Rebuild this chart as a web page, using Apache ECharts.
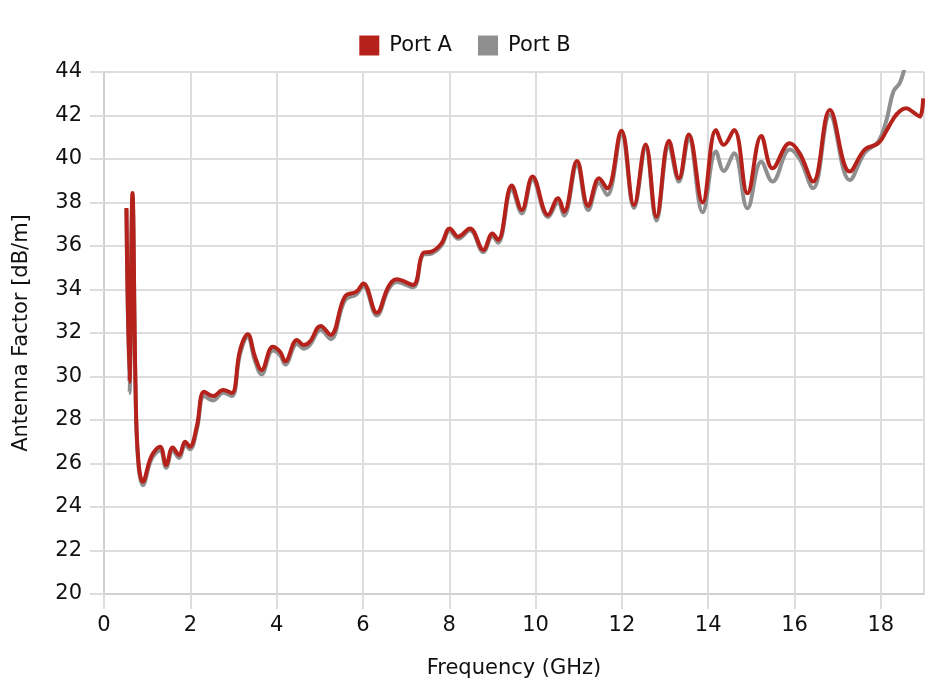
<!DOCTYPE html>
<html>
<head>
<meta charset="utf-8">
<script src="https://cdn.jsdelivr.net/npm/echarts@6/dist/echarts.min.js"></script>
<style>
  html, body { margin: 0; padding: 0; background: #fff; }
  #chart { width: 930px; height: 696px; }
</style>
</head>
<body>
<div id="chart"></div>
<script>
// frequency points (GHz)
var freq = [0.52, 0.59, 0.66, 0.73, 0.79, 0.90, 1.10, 1.30, 1.44, 1.59, 1.74, 1.88, 1.99, 2.15, 2.32, 2.53, 2.76, 2.96,
    3.15, 3.33, 3.50, 3.65, 3.91, 4.08, 4.20, 4.47, 4.63, 4.77, 5.02, 5.25, 5.58, 5.85, 6.01, 6.32, 6.59, 6.78,
    7.16, 7.40, 7.59, 7.82, 8.01, 8.21, 8.48, 8.79, 9.00, 9.13, 9.45, 9.68, 9.93, 10.29, 10.52, 10.66, 10.96,
    11.22, 11.47, 11.66, 11.99, 12.28, 12.55, 12.80, 13.09, 13.32, 13.55, 13.87, 14.18, 14.36, 14.60, 14.91,
    15.23, 15.49, 15.89, 16.12, 16.43, 16.82, 17.28, 17.63, 17.94, 18.13, 18.29, 18.44, 18.59, 18.75, 18.90, 18.98];

var portA = [37.75, 29.76, 38.44, 29.6, 26.3, 25.16, 26.34, 26.77, 25.93, 26.73, 26.39, 27.0, 26.77, 27.7, 29.3, 29.1, 29.38, 29.24,
    31.2, 31.94, 30.9, 30.3, 31.37, 31.14, 30.7, 31.68, 31.45, 31.6, 32.32, 31.91, 33.67, 33.9, 34.28, 32.93, 34.13, 34.47,
    34.21, 35.69, 35.74, 36.12, 36.81, 36.43, 36.81, 35.82, 36.58, 36.28, 38.78, 37.66, 39.2, 37.43, 38.19, 37.58, 39.91,
    37.84, 39.11, 38.65, 41.3, 37.88, 40.67, 37.35, 40.84, 39.11, 41.13, 38.0, 41.33, 40.65, 41.33, 38.42,
    41.06, 39.57, 40.72, 40.26, 38.96, 42.25, 39.42, 40.44, 40.72, 41.3, 41.85, 42.2, 42.33, 42.15, 41.95, 42.79];

var portB = [37.7, 29.24, 38.2, 29.4, 26.1, 25.0, 26.2, 26.6, 25.8, 26.6, 26.25, 26.85, 26.65, 27.55, 29.1, 28.9, 29.25, 29.1,
    31.0, 31.8, 30.7, 30.1, 31.2, 30.98, 30.55, 31.5, 31.28, 31.45, 32.15, 31.72, 33.5, 33.78, 34.15, 32.8, 34.0, 34.35,
    34.1, 35.6, 35.65, 36.02, 36.7, 36.33, 36.72, 35.72, 36.45, 36.15, 38.6, 37.5, 39.05, 37.33, 38.0, 37.4, 39.7,
    37.65, 38.9, 38.34, 41.1, 37.75, 40.5, 37.17, 40.6, 38.96, 40.95, 37.55, 40.34, 39.45, 40.26, 37.73,
    39.87, 38.96, 40.44, 40.0, 38.65, 42.02, 39.03, 40.3, 40.8, 41.79, 43.1, 43.5, 44.4, 45.2, 46.0, 46.5];

var seriesNames = ['Port A', 'Port B'];
var seriesColors = ['#b5211b', '#8f8f8f'];

function pairs(xs, ys) {
    var out = [];
    for (var i = 0; i < xs.length; i++) out.push([xs[i], ys[i]]);
    return out;
}

var font = 'DejaVu Sans';
var chart = echarts.init(document.getElementById('chart'));
chart.setOption({
    animation: false,
    textStyle: { fontFamily: font },
    legend: {
        top: 30,
        left: 'center',
        data: seriesNames,
        icon: 'rect',
        itemWidth: 20,
        itemHeight: 20,
        itemGap: 26,
        textStyle: { fontSize: 21, color: '#111', fontFamily: font, padding: [0, 0, 0, 5] }
    },
    grid: { left: 104, right: 6, top: 72, bottom: 102 },
    xAxis: {
        type: 'value',
        min: 0,
        max: 19,
        interval: 2,
        name: 'Frequency (GHz)',
        nameLocation: 'middle',
        nameGap: 64,
        nameTextStyle: { fontSize: 21, color: '#111' },
        axisLine: { show: true, lineStyle: { color: '#cccccc', width: 1.5 } },
        axisTick: { show: true, length: 15, lineStyle: { color: '#dddddd', width: 2 } },
        axisLabel: { fontSize: 21, color: '#111', margin: 21, showMaxLabel: false },
        splitLine: { show: true, lineStyle: { color: '#dddddd', width: 2 } }
    },
    yAxis: {
        type: 'value',
        min: 20,
        max: 44,
        interval: 2,
        name: 'Antenna Factor [dB/m]',
        nameLocation: 'middle',
        nameGap: 72,
        nameTextStyle: { fontSize: 21, color: '#111' },
        axisLine: { show: true, lineStyle: { color: '#cccccc', width: 1.5 } },
        axisTick: { show: true, length: 14, lineStyle: { color: '#dddddd', width: 2 } },
        axisLabel: { fontSize: 21, color: '#111', margin: 22 },
        splitLine: { show: true, lineStyle: { color: '#dddddd', width: 2 } }
    },
    series: [
        {
            name: seriesNames[0],
            type: 'line',
            z: 3,
            data: pairs(freq, portA),
            smooth: 0.4,
            showSymbol: false,
            clip: true,
            itemStyle: { color: seriesColors[0] },
            lineStyle: { color: seriesColors[0], width: 4 }
        },
        {
            name: seriesNames[1],
            type: 'line',
            z: 2,
            data: pairs(freq, portB),
            smooth: 0.4,
            showSymbol: false,
            clip: true,
            itemStyle: { color: seriesColors[1] },
            lineStyle: { color: seriesColors[1], width: 4 }
        }
    ]
});
</script>
</body>
</html>
